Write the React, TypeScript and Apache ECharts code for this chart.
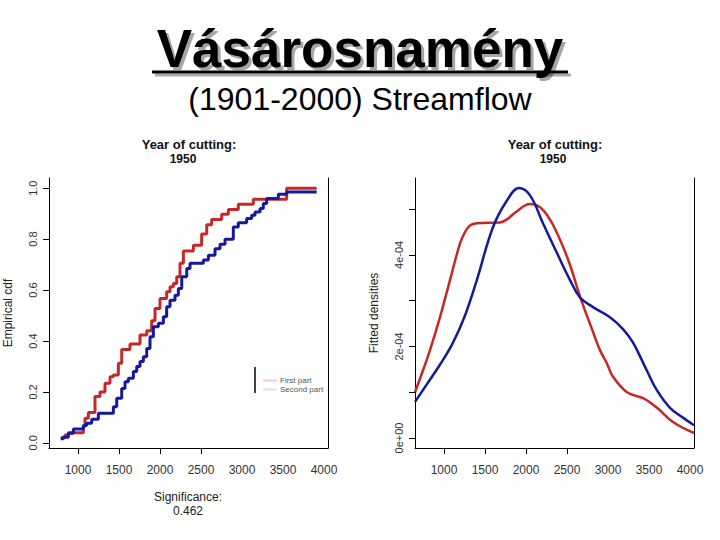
import React, { useEffect, useRef } from "react";
import * as echarts from "echarts";

// ---- Data ----
const title = "Vásárosnamény";
const subtitle = "(1901-2000) Streamflow";
const panelTitle = "Year of cutting:";
const cuttingYear = "1950";
const seriesNames = ["First part", "Second part"];
const xTicks = [1000, 1500, 2000, 2500];
const xLabels = [1000, 1500, 2000, 2500, 3000, 3500, 4000];
const cdfTicks = [0, 0.2, 0.4, 0.6, 0.8, 1.0];
const densTicks = [0, 1e-4, 2e-4, 3e-4, 4e-4, 5e-4];
const densLabels = [0, 2e-4, 4e-4];
const significance = "0.462";

// Empirical CDF (step) – first part (red)
const redCdfX = [789, 841, 882, 1065, 1085, 1126, 1207, 1268, 1329, 1390, 1431, 1492, 1533, 1634, 1756, 1838, 1898, 1939, 2000, 2081, 2122, 2163, 2204, 2244, 2285, 2407, 2508, 2570, 2630, 2752, 2833, 2955, 3138, 3545, 3911];
const redCdfY = [0.02, 0.031, 0.04, 0.064, 0.097, 0.119, 0.182, 0.2, 0.234, 0.26, 0.267, 0.313, 0.367, 0.388, 0.424, 0.44, 0.48, 0.528, 0.567, 0.593, 0.613, 0.626, 0.652, 0.705, 0.753, 0.776, 0.82, 0.856, 0.877, 0.898, 0.916, 0.937, 0.957, 1.0, 1.0];
// Empirical CDF (step) – second part (blue)
const blueCdfX = [789, 821, 882, 943, 1065, 1106, 1167, 1248, 1431, 1472, 1533, 1573, 1614, 1675, 1716, 1756, 1797, 1838, 1878, 1919, 1980, 2041, 2081, 2122, 2183, 2224, 2265, 2326, 2366, 2529, 2590, 2671, 2732, 2793, 2894, 2955, 3057, 3118, 3159, 3220, 3260, 3301, 3443, 3545, 3911];
const blueCdfY = [0.016, 0.022, 0.038, 0.055, 0.068, 0.077, 0.093, 0.116, 0.142, 0.175, 0.214, 0.24, 0.254, 0.28, 0.3, 0.32, 0.338, 0.371, 0.417, 0.456, 0.47, 0.495, 0.535, 0.56, 0.58, 0.606, 0.652, 0.685, 0.705, 0.718, 0.737, 0.762, 0.78, 0.8, 0.848, 0.864, 0.881, 0.894, 0.907, 0.92, 0.94, 0.96, 0.976, 0.985, 0.985];

// Fitted densities (units of 1e-4)
const redDensX = [646, 744, 829, 951, 1073, 1195, 1256, 1317, 1398, 1683, 1764, 1886, 2049, 2171, 2293, 2415, 2537, 2659, 2821, 2902, 2984, 3061, 3232, 3427, 3598, 3793, 4049];
const redDensY = [1.0, 1.48, 1.92, 2.64, 3.45, 4.25, 4.5, 4.64, 4.69, 4.71, 4.77, 4.95, 5.11, 5.04, 4.77, 4.33, 3.78, 3.09, 2.3, 1.92, 1.64, 1.34, 1.0, 0.87, 0.66, 0.35, 0.11];
const blueDensX = [646, 800, 950, 1100, 1250, 1400, 1598, 1768, 1915, 2049, 2207, 2378, 2537, 2659, 2817, 3024, 3183, 3300, 3400, 3472, 3594, 3756, 3918, 4049];
const blueDensY = [0.79, 1.2, 1.6, 2.05, 2.65, 3.45, 4.61, 5.19, 5.46, 5.3, 4.69, 4.04, 3.45, 3.07, 2.86, 2.64, 2.38, 2.1, 1.75, 1.48, 1.05, 0.66, 0.44, 0.28];

const RED = "#c62828";
const BLUE = "#18189c";
const FONT = '"Liberation Sans", Arial, sans-serif';
const NARROW = '"Liberation Sans Narrow", "Arial Narrow", "Liberation Sans", Arial, sans-serif';

function zip(xs: number[], ys: number[], k = 1) {
  return xs.map((x, i) => [x, ys[i] * k]);
}

function fmtDens(v: number) {
  if (Math.abs(v) < 1e-12) return "0e+00";
  const m = Math.round(v * 1e4);
  return m + "e-04";
}

export default function App() {
  const ref = useRef<HTMLDivElement>(null);
  useEffect(() => {
    if (!ref.current) return;
    const chart = echarts.init(ref.current, undefined, { renderer: "svg" });
    const xAxisBase = (gridIndex: number) => ({
      type: "value",
      gridIndex,
      min: 646,
      max: 4049,
      splitLine: { show: false },
      axisLine: { show: true, onZero: false, lineStyle: { color: "#000", width: 1 } },
      axisTick: { show: true, customValues: xTicks, length: 6, lineStyle: { color: "#000" } },
      axisLabel: {
        customValues: xLabels,
        margin: 16,
        fontSize: 12,
        fontFamily: NARROW,
        color: "#333",
        formatter: (v: number) => String(v),
      },
    });
    const option: any = {
      animation: false,
      backgroundColor: "#fff",
      grid: [
        { left: 49, top: 178, width: 279, height: 270 },
        { left: 415, top: 178, width: 279, height: 270 },
      ],
      xAxis: [xAxisBase(0), xAxisBase(1)],
      yAxis: [
        {
          type: "value",
          gridIndex: 0,
          min: -0.02,
          max: 1.04,
          splitLine: { show: false },
          axisLine: { show: true, onZero: false, lineStyle: { color: "#000" } },
          axisTick: { show: true, customValues: cdfTicks, length: 6, lineStyle: { color: "#000" } },
          axisLabel: {
            customValues: cdfTicks,
            rotate: 90,
            margin: 11,
            fontSize: 11,
            fontFamily: NARROW,
            color: "#333",
            formatter: (v: number) => v.toFixed(1),
          },
        },
        {
          type: "value",
          gridIndex: 0,
          position: "right",
          min: -0.02,
          max: 1.04,
          splitLine: { show: false },
          axisLine: { show: true, onZero: false, lineStyle: { color: "#000" } },
          axisTick: { show: false },
          axisLabel: { show: false },
        },
        {
          type: "value",
          gridIndex: 1,
          min: -0.218e-4,
          max: 5.68e-4,
          splitLine: { show: false },
          axisLine: { show: true, onZero: false, lineStyle: { color: "#000" } },
          axisTick: { show: true, customValues: densTicks, length: 6, lineStyle: { color: "#000" } },
          axisLabel: {
            customValues: densLabels,
            rotate: 90,
            margin: 11,
            fontSize: 11,
            fontFamily: NARROW,
            color: "#333",
            formatter: fmtDens,
          },
        },
        {
          type: "value",
          gridIndex: 1,
          position: "right",
          min: -0.218e-4,
          max: 5.68e-4,
          splitLine: { show: false },
          axisLine: { show: true, onZero: false, lineStyle: { color: "#000" } },
          axisTick: { show: false },
          axisLabel: { show: false },
        },
      ],
      legend: {
        left: 258,
        top: 371,
        orient: "vertical",
        itemWidth: 14,
        itemHeight: 2,
        itemGap: 0,
        selectedMode: false,
        textStyle: { fontSize: 8, lineHeight: 9, color: "#555", fontFamily: FONT, padding: [0, 0, 0, -2] },
        data: [
          { name: seriesNames[0], icon: "rect", itemStyle: { color: "#f5cccc" } },
          { name: seriesNames[1], icon: "rect", itemStyle: { color: "#dedef2" } },
        ],
        itemStyle: { borderWidth: 0 },
      },
      series: [
        {
          name: seriesNames[0],
          type: "line",
          xAxisIndex: 0,
          yAxisIndex: 0,
          step: "end",
          symbol: "none",
          lineStyle: { color: RED, width: 3 },
          itemStyle: { color: RED },
          data: zip(redCdfX, redCdfY),
        },
        {
          name: seriesNames[1],
          type: "line",
          xAxisIndex: 0,
          yAxisIndex: 0,
          step: "end",
          symbol: "none",
          lineStyle: { color: BLUE, width: 3 },
          itemStyle: { color: BLUE },
          data: zip(blueCdfX, blueCdfY),
        },
        {
          name: seriesNames[0],
          type: "line",
          xAxisIndex: 1,
          yAxisIndex: 2,
          smooth: 0.4,
          symbol: "none",
          lineStyle: { color: RED, width: 2.5 },
          itemStyle: { color: RED },
          data: zip(redDensX, redDensY, 1e-4),
        },
        {
          name: seriesNames[1],
          type: "line",
          xAxisIndex: 1,
          yAxisIndex: 2,
          smooth: 0.4,
          symbol: "none",
          lineStyle: { color: BLUE, width: 2.5 },
          itemStyle: { color: BLUE },
          data: zip(blueDensX, blueDensY, 1e-4),
        },
      ],
      graphic: [
        // title underline shadow + underline
        { type: "line", shape: { x1: 155, y1: 75, x2: 571, y2: 75 }, style: { stroke: "#aaa", lineWidth: 3 } },
        { type: "line", shape: { x1: 152, y1: 72, x2: 568, y2: 72 }, style: { stroke: "#000", lineWidth: 3 } },
        {
          type: "text",
          x: 360,
          y: 48,
          style: {
            text: title,
            font: `bold 53px ${FONT}`,
            fill: "#000",
            align: "center",
            verticalAlign: "middle",
            textShadowColor: "rgba(0,0,0,0.35)",
            textShadowOffsetX: 3,
            textShadowOffsetY: 3,
            textShadowBlur: 1,
          },
        },
        {
          type: "text",
          x: 360,
          y: 99,
          style: { text: subtitle, font: `32px ${FONT}`, fill: "#000", align: "center", verticalAlign: "middle" },
        },
        {
          type: "text",
          x: 189,
          y: 144.5,
          style: { text: panelTitle, font: `bold 13px ${FONT}`, fill: "#111", align: "center", verticalAlign: "middle" },
        },
        {
          type: "text",
          x: 183,
          y: 158.5,
          style: { text: cuttingYear, font: `bold 12px ${FONT}`, fill: "#111", align: "center", verticalAlign: "middle" },
        },
        {
          type: "text",
          x: 555,
          y: 144.5,
          style: { text: panelTitle, font: `bold 13px ${FONT}`, fill: "#111", align: "center", verticalAlign: "middle" },
        },
        {
          type: "text",
          x: 553,
          y: 158.5,
          style: { text: cuttingYear, font: `bold 12px ${FONT}`, fill: "#111", align: "center", verticalAlign: "middle" },
        },
        {
          type: "text",
          x: 8,
          y: 313,
          rotation: Math.PI / 2,
          style: { text: "Empirical cdf", font: `12px ${FONT}`, fill: "#222", align: "center", verticalAlign: "middle" },
        },
        {
          type: "text",
          x: 374,
          y: 313,
          rotation: Math.PI / 2,
          style: { text: "Fitted densities", font: `12px ${FONT}`, fill: "#222", align: "center", verticalAlign: "middle" },
        },
        {
          type: "text",
          x: 188,
          y: 504,
          style: {
            text: "Significance:\n" + significance,
            font: `12px ${FONT}`,
            lineHeight: 14,
            fill: "#222",
            align: "center",
            verticalAlign: "middle",
          },
        },
        { type: "line", shape: { x1: 255, y1: 367, x2: 255, y2: 393 }, style: { stroke: "#000", lineWidth: 1.5 } },
      ],
    };
    chart.setOption(option);
    return () => chart.dispose();
  }, []);
  return (
    <div
      ref={ref}
      style={{ position: "fixed", left: 0, top: 0, width: 720, height: 540, background: "#fff" }}
    />
  );
}
